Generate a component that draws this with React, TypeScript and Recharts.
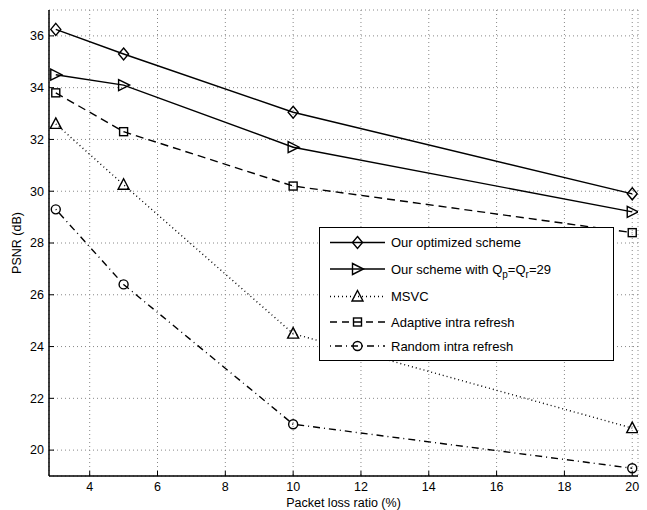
import React from "react";
import {
    LineChart,
    Line,
    XAxis,
    YAxis,
    CartesianGrid,
    Label,
} from "recharts";

const lossRatio = [3, 5, 10, 20];
const optimized = [36.25, 35.3, 33.05, 29.9];
const fixedQp = [34.5, 34.1, 31.7, 29.2];
const msvc = [32.6, 30.25, 24.5, 20.85];
const adaptive = [33.8, 32.3, 30.2, 28.4];
const randomRefresh = [29.3, 26.4, 21.0, 19.3];

const xTicks = [4, 6, 8, 10, 12, 14, 16, 18, 20];
const yTicks = [20, 22, 24, 26, 28, 30, 32, 34, 36];

const data = lossRatio.map((x, i) => ({
    x,
    optimized: optimized[i],
    fixedQp: fixedQp[i],
    msvc: msvc[i],
    adaptive: adaptive[i],
    randomRefresh: randomRefresh[i],
}));

const FONT = "'Liberation Sans', Arial, Helvetica, sans-serif";
const FS = 12.5;
const SW = 1.4;

type MarkerKind = "diamond" | "right" | "up" | "square" | "circle";

function Marker({ kind, cx, cy }: { kind: MarkerKind; cx: number; cy: number }) {
    const common = { fill: "none", stroke: "#000", strokeWidth: SW };
    if (kind === "diamond")
        return <path {...common} d={`M${cx},${cy - 6}L${cx + 5},${cy}L${cx},${cy + 6}L${cx - 5},${cy}Z`} />;
    if (kind === "right")
        return <path {...common} d={`M${cx - 5},${cy - 5.5}L${cx + 6},${cy}L${cx - 5},${cy + 5.5}Z`} />;
    if (kind === "up")
        return <path {...common} d={`M${cx},${cy - 6}L${cx + 5.5},${cy + 4.5}L${cx - 5.5},${cy + 4.5}Z`} />;
    if (kind === "square")
        return <rect {...common} x={cx - 4} y={cy - 4} width={8} height={8} />;
    return <circle {...common} cx={cx} cy={cy} r={4.5} />;
}

const dotOf = (kind: MarkerKind) => (p: any) =>
    <Marker key={`${kind}-${p.index}`} kind={kind} cx={p.cx} cy={p.cy} />;

// MATLAB style inward ticks
const BottomTick = (p: any) => {
    const base = p.y - 6;
    return (
        <g>
            <line x1={p.x} x2={p.x} y1={base} y2={base - 5} stroke="#000" strokeWidth={1} />
            <text x={p.x} y={p.y} dy="0.71em" textAnchor="middle" fontSize={FS} fontFamily={FONT} fill="#000">
                {p.payload.value}
            </text>
        </g>
    );
};

const LeftTick = (p: any) => {
    const base = p.x + 5;
    return (
        <g>
            <line x1={base} x2={base + 5} y1={p.y} y2={p.y} stroke="#000" strokeWidth={1} />
            <text x={p.x} y={p.y} dy="0.35em" textAnchor="end" fontSize={FS} fontFamily={FONT} fill="#000">
                {p.payload.value}
            </text>
        </g>
    );
};

const TopTick = (p: any) => (
    <line x1={p.x} x2={p.x} y1={p.y} y2={p.y + 5} stroke="#000" strokeWidth={1} />
);

const RightTick = (p: any) => (
    <line x1={p.x} x2={p.x - 5} y1={p.y} y2={p.y} stroke="#000" strokeWidth={1} />
);

const legendItems: { kind: MarkerKind; dash?: string; y: number }[] = [
    { kind: "diamond", y: 242.5 },
    { kind: "right", y: 269 },
    { kind: "up", dash: "1 3", y: 296.5 },
    { kind: "square", dash: "7 5", y: 322 },
    { kind: "circle", dash: "1 4 7 4", y: 346 },
];

function LegendBox() {
    const labels: React.ReactNode[] = [
        "Our optimized scheme",
        <>
            Our scheme with Q<tspan dy={4} fontSize={10}>p</tspan>
            <tspan dy={-4}>=Q</tspan>
            <tspan dy={4} fontSize={10}>r</tspan>
            <tspan dy={-4}>=29</tspan>
        </>,
        "MSVC",
        "Adaptive intra refresh",
        "Random intra refresh",
    ];
    return (
        <svg width={647} height={510} style={{ position: "absolute", left: 0, top: 0, pointerEvents: "none" }}>
            <rect x={319.5} y={227.5} width={294} height={133} fill="#fff" stroke="#000" strokeWidth={1} />
            {legendItems.map((it, i) => (
                <g key={i}>
                    <line x1={330} x2={385} y1={it.y} y2={it.y} stroke="#000" strokeWidth={SW} strokeDasharray={it.dash} />
                    <Marker kind={it.kind} cx={357.5} cy={it.y} />
                    <text x={391} y={it.y} dy="0.35em" fontSize={FS + 0.5} fontFamily={FONT} fill="#000">
                        {labels[i]}
                    </text>
                </g>
            ))}
        </svg>
    );
}

export default function App() {
    return (
        <div style={{ position: "absolute", left: 0, top: 0, width: 647, height: 510, background: "#fff" }}>
            <LineChart width={647} height={510} data={data} margin={{ top: 10, right: 9, left: 0, bottom: 0 }}>
                <CartesianGrid stroke="#888" strokeDasharray="1 3" />
                <XAxis
                    dataKey="x"
                    type="number"
                    domain={[2.8, 20.17]}
                    ticks={xTicks}
                    allowDataOverflow
                    height={34}
                    tickSize={0}
                    tickMargin={6}
                    tick={BottomTick}
                    tickLine={false}
                    axisLine={{ stroke: "#000", strokeWidth: 1.5 }}
                >
                    <Label
                        value="Packet loss ratio (%)"
                        position="insideBottom"
                        offset={3}
                        style={{ fontSize: FS, fontFamily: FONT, fill: "#000" }}
                    />
                </XAxis>
                <XAxis
                    xAxisId="top"
                    orientation="top"
                    dataKey="x"
                    type="number"
                    domain={[2.8, 20.17]}
                    ticks={xTicks}
                    allowDataOverflow
                    height={0}
                    tickSize={0}
                    tickMargin={0}
                    tick={TopTick}
                    tickLine={false}
                    axisLine={{ stroke: "#000", strokeWidth: 1.5 }}
                />
                <YAxis
                    type="number"
                    domain={[19, 37]}
                    ticks={yTicks}
                    allowDataOverflow
                    width={49}
                    tickSize={0}
                    tickMargin={5}
                    tick={LeftTick}
                    tickLine={false}
                    axisLine={{ stroke: "#000", strokeWidth: 1.5 }}
                >
                    <Label
                        value="PSNR (dB)"
                        angle={-90}
                        position="insideLeft"
                        offset={17}
                        style={{ fontSize: FS, fontFamily: FONT, fill: "#000", textAnchor: "middle" }}
                    />
                </YAxis>
                <YAxis
                    yAxisId="right"
                    orientation="right"
                    type="number"
                    domain={[19, 37]}
                    ticks={yTicks}
                    allowDataOverflow
                    width={0}
                    tickSize={0}
                    tickMargin={0}
                    tick={RightTick}
                    tickLine={false}
                    axisLine={{ stroke: "#000", strokeWidth: 1.5 }}
                />
                <Line dataKey="optimized" type="linear" stroke="#000" strokeWidth={SW} dot={dotOf("diamond")} activeDot={false} isAnimationActive={false} />
                <Line dataKey="fixedQp" type="linear" stroke="#000" strokeWidth={SW} dot={dotOf("right")} activeDot={false} isAnimationActive={false} />
                <Line dataKey="msvc" type="linear" stroke="#000" strokeWidth={SW} strokeDasharray="1 3" dot={dotOf("up")} activeDot={false} isAnimationActive={false} />
                <Line dataKey="adaptive" type="linear" stroke="#000" strokeWidth={SW} strokeDasharray="8 5" dot={dotOf("square")} activeDot={false} isAnimationActive={false} />
                <Line dataKey="randomRefresh" type="linear" stroke="#000" strokeWidth={SW} strokeDasharray="1 4 7 4" dot={dotOf("circle")} activeDot={false} isAnimationActive={false} />
            </LineChart>
            <LegendBox />
        </div>
    );
}
